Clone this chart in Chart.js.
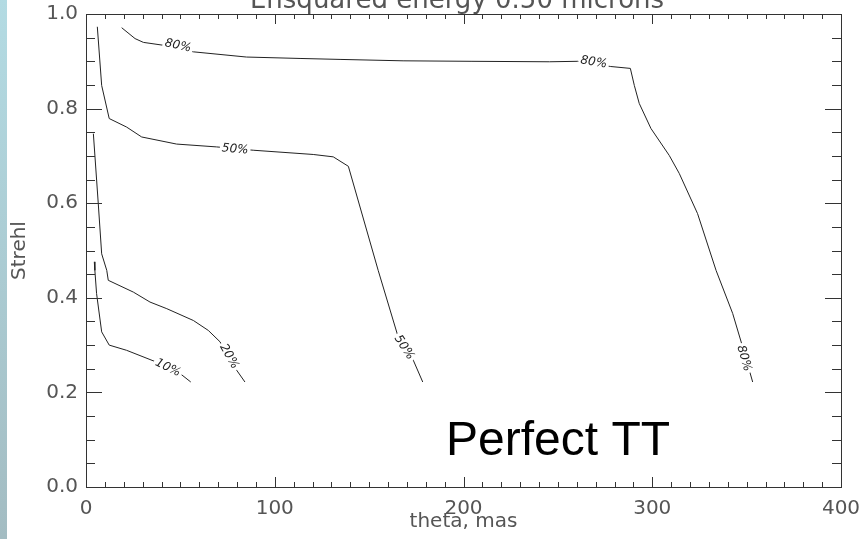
<!DOCTYPE html>
<html>
<head>
<meta charset="utf-8">
<script src="https://cdn.jsdelivr.net/npm/chart.js@4/dist/chart.umd.min.js"></script>
<style>
  html, body { margin: 0; padding: 0; background: #fff; }
  #wrap { width: 862px; height: 539px; position: relative; }
</style>
</head>
<body>
<div id="wrap"><canvas id="contourChart"></canvas></div>
<script>
// contour lines (theta in mas, Strehl)
const c80x = [18.9, 26, 30.4, 40.8, 56.9, 85, 113.4, 134.6, 168, 204, 245.5, 260.5, 278, 288.4, 290.5, 293.1, 299.3, 309, 314.3, 324, 333.8, 342.6, 347.9, 353.2];
const c80y = [0.971, 0.948, 0.94, 0.934, 0.92, 0.909, 0.906, 0.904, 0.901, 0.9, 0.899, 0.9, 0.889, 0.885, 0.849, 0.811, 0.758, 0.701, 0.663, 0.578, 0.458, 0.367, 0.296, 0.222];
const c50x = [6, 8.3, 12.3, 21.5, 29.5, 48, 69.2, 88.6, 120.4, 131, 139, 154.8, 165.4, 173.4, 178.4];
const c50y = [0.973, 0.849, 0.779, 0.761, 0.74, 0.725, 0.719, 0.712, 0.703, 0.698, 0.678, 0.458, 0.317, 0.268, 0.222];
const c20x = [3.9, 6.5, 8.3, 11, 11.8, 25.1, 33.9, 42.8, 56.9, 64.8, 71, 79.8, 84.2];
const c20y = [0.747, 0.599, 0.493, 0.458, 0.437, 0.412, 0.391, 0.377, 0.352, 0.331, 0.307, 0.247, 0.222];
const c10x = [4.4, 4.7, 5.6, 8.3, 12.3, 21.5, 37.4, 49.8, 55.5];
const c10y = [0.476, 0.458, 0.409, 0.328, 0.3, 0.289, 0.264, 0.24, 0.222];

// contour labels: text, series index, position in data units
const labelText = ['80%', '80%', '80%', '50%', '50%', '20%', '10%'];
const labelSeries = [0, 0, 0, 1, 1, 2, 3];
const labelX = [48.7, 269, 348.6, 79, 168.5, 75.8, 43.4];
const labelY = [0.933, 0.898, 0.272, 0.714, 0.295, 0.276, 0.252];

const xTicks = [0, 100, 200, 300, 400];
const yTicks = [0, 0.2, 0.4, 0.6, 0.8, 1.0];

const series = [[c80x, c80y], [c50x, c50y], [c20x, c20y], [c10x, c10y]];

function toPoints(xs, ys) {
    return xs.map((x, i) => ({ x: x, y: ys[i] }));
}

const LINE = '#222';
const AXIS = '#333';
const TEXT = '#555';
const FONT = "'DejaVu Sans', sans-serif";

const decor = {
    id: 'decor',
    beforeDraw(chart) {
        const ctx = chart.ctx;
        ctx.save();
        ctx.fillStyle = '#fff';
        ctx.fillRect(0, 0, chart.width, chart.height);
        // slide edge on the left
        const g = ctx.createLinearGradient(0, 0, 0, chart.height);
        g.addColorStop(0, '#b3dbe3');
        g.addColorStop(1, '#a3bcc2');
        ctx.fillStyle = g;
        ctx.fillRect(0, 0, 7, chart.height);
        ctx.restore();
    },
    afterDatasetsDraw(chart) {
        const ctx = chart.ctx;
        const xs = chart.scales.x, ys = chart.scales.y;
        const a = chart.chartArea;

        // contour labels with a gap in the line
        ctx.save();
        ctx.font = "italic 12px " + FONT;
        ctx.textAlign = 'center';
        ctx.textBaseline = 'middle';
        labelText.forEach((t, i) => {
            const sx = series[labelSeries[i]][0], sy = series[labelSeries[i]][1];
            let k = 0;
            while (k < sx.length - 2 && sx[k + 1] < labelX[i]) k++;
            const dx = xs.getPixelForValue(sx[k + 1]) - xs.getPixelForValue(sx[k]);
            const dy = ys.getPixelForValue(sy[k + 1]) - ys.getPixelForValue(sy[k]);
            const ang = Math.atan2(dy, dx);
            const px = xs.getPixelForValue(labelX[i]);
            const py = ys.getPixelForValue(labelY[i]);
            const w = ctx.measureText(t).width;
            ctx.save();
            ctx.translate(px, py);
            ctx.rotate(ang);
            ctx.fillStyle = '#fff';
            ctx.fillRect(-w / 2 - 2, -5, w + 4, 10);
            ctx.fillStyle = LINE;
            ctx.fillText(t, 0, 0);
            ctx.restore();
        });
        ctx.restore();

        // frame and inward ticks on all four sides
        ctx.save();
        ctx.strokeStyle = AXIS;
        ctx.lineWidth = 1;
        ctx.strokeRect(a.left + 0.5, a.top + 0.5, a.right - a.left, a.bottom - a.top);
        ctx.beginPath();
        for (let v = 0; v <= 400; v += 10) {
            const px = Math.round(xs.getPixelForValue(v)) + 0.5;
            const len = v % 100 === 0 ? 10 : 5;
            ctx.moveTo(px, a.bottom); ctx.lineTo(px, a.bottom - len);
            ctx.moveTo(px, a.top); ctx.lineTo(px, a.top + len);
        }
        for (let n = 0; n <= 20; n++) {
            const py = Math.round(ys.getPixelForValue(n * 0.05)) + 0.5;
            const len = n % 4 === 0 ? 16 : 9;
            ctx.moveTo(a.left, py); ctx.lineTo(a.left + len, py);
            ctx.moveTo(a.right, py); ctx.lineTo(a.right - len, py);
        }
        ctx.stroke();
        ctx.restore();

        // title (cut off by the top edge) and the slide caption
        ctx.save();
        ctx.fillStyle = TEXT;
        ctx.font = "26px " + FONT;
        ctx.textAlign = 'center';
        ctx.textBaseline = 'alphabetic';
        ctx.fillText('Ensquared energy 0.50 microns', 457, 8);
        ctx.fillStyle = '#000';
        ctx.font = "48px 'Liberation Sans', Arial, sans-serif";
        ctx.textAlign = 'left';
        ctx.fillText('Perfect TT', 446, 455);
        ctx.restore();
    }
};

new Chart(document.getElementById('contourChart'), {
    type: 'line',
    data: {
        datasets: series.map(s => ({
            data: toPoints(s[0], s[1]),
            borderColor: LINE,
            borderWidth: 1,
            pointRadius: 0,
            tension: 0,
            fill: false,
        })),
    },
    options: {
        responsive: true,
        maintainAspectRatio: false,
        animation: false,
        events: [],
        layout: { padding: { left: 0, top: 14, right: 21, bottom: 0 } },
        plugins: {
            legend: { display: false },
            tooltip: { enabled: false },
        },
        scales: {
            x: {
                type: 'linear',
                min: 0,
                max: 400,
                afterBuildTicks: s => { s.ticks = xTicks.map(v => ({ value: v })); },
                afterFit: s => { s.height = 52; s.paddingLeft = 0; s.paddingRight = 0; },
                grid: { display: false, drawTicks: false },
                border: { display: false },
                ticks: { color: TEXT, font: { family: FONT, size: 20 }, padding: 10, maxRotation: 0 },
                title: { display: true, text: 'theta, mas', color: TEXT, font: { family: FONT, size: 20 }, padding: { top: 0, bottom: 5 } },
            },
            y: {
                type: 'linear',
                min: 0,
                max: 1,
                afterBuildTicks: s => { s.ticks = yTicks.map(v => ({ value: v })); },
                afterFit: s => { s.width = 86; s.paddingTop = 0; s.paddingBottom = 0; },
                grid: { display: false, drawTicks: false },
                border: { display: false },
                ticks: { color: TEXT, font: { family: FONT, size: 20 }, padding: 8, callback: v => v.toFixed(1) },
                title: { display: true, text: 'Strehl', color: TEXT, font: { family: FONT, size: 20 }, padding: { top: 8, bottom: 0 } },
            },
        },
    },
    plugins: [decor],
});
</script>
</body>
</html>
